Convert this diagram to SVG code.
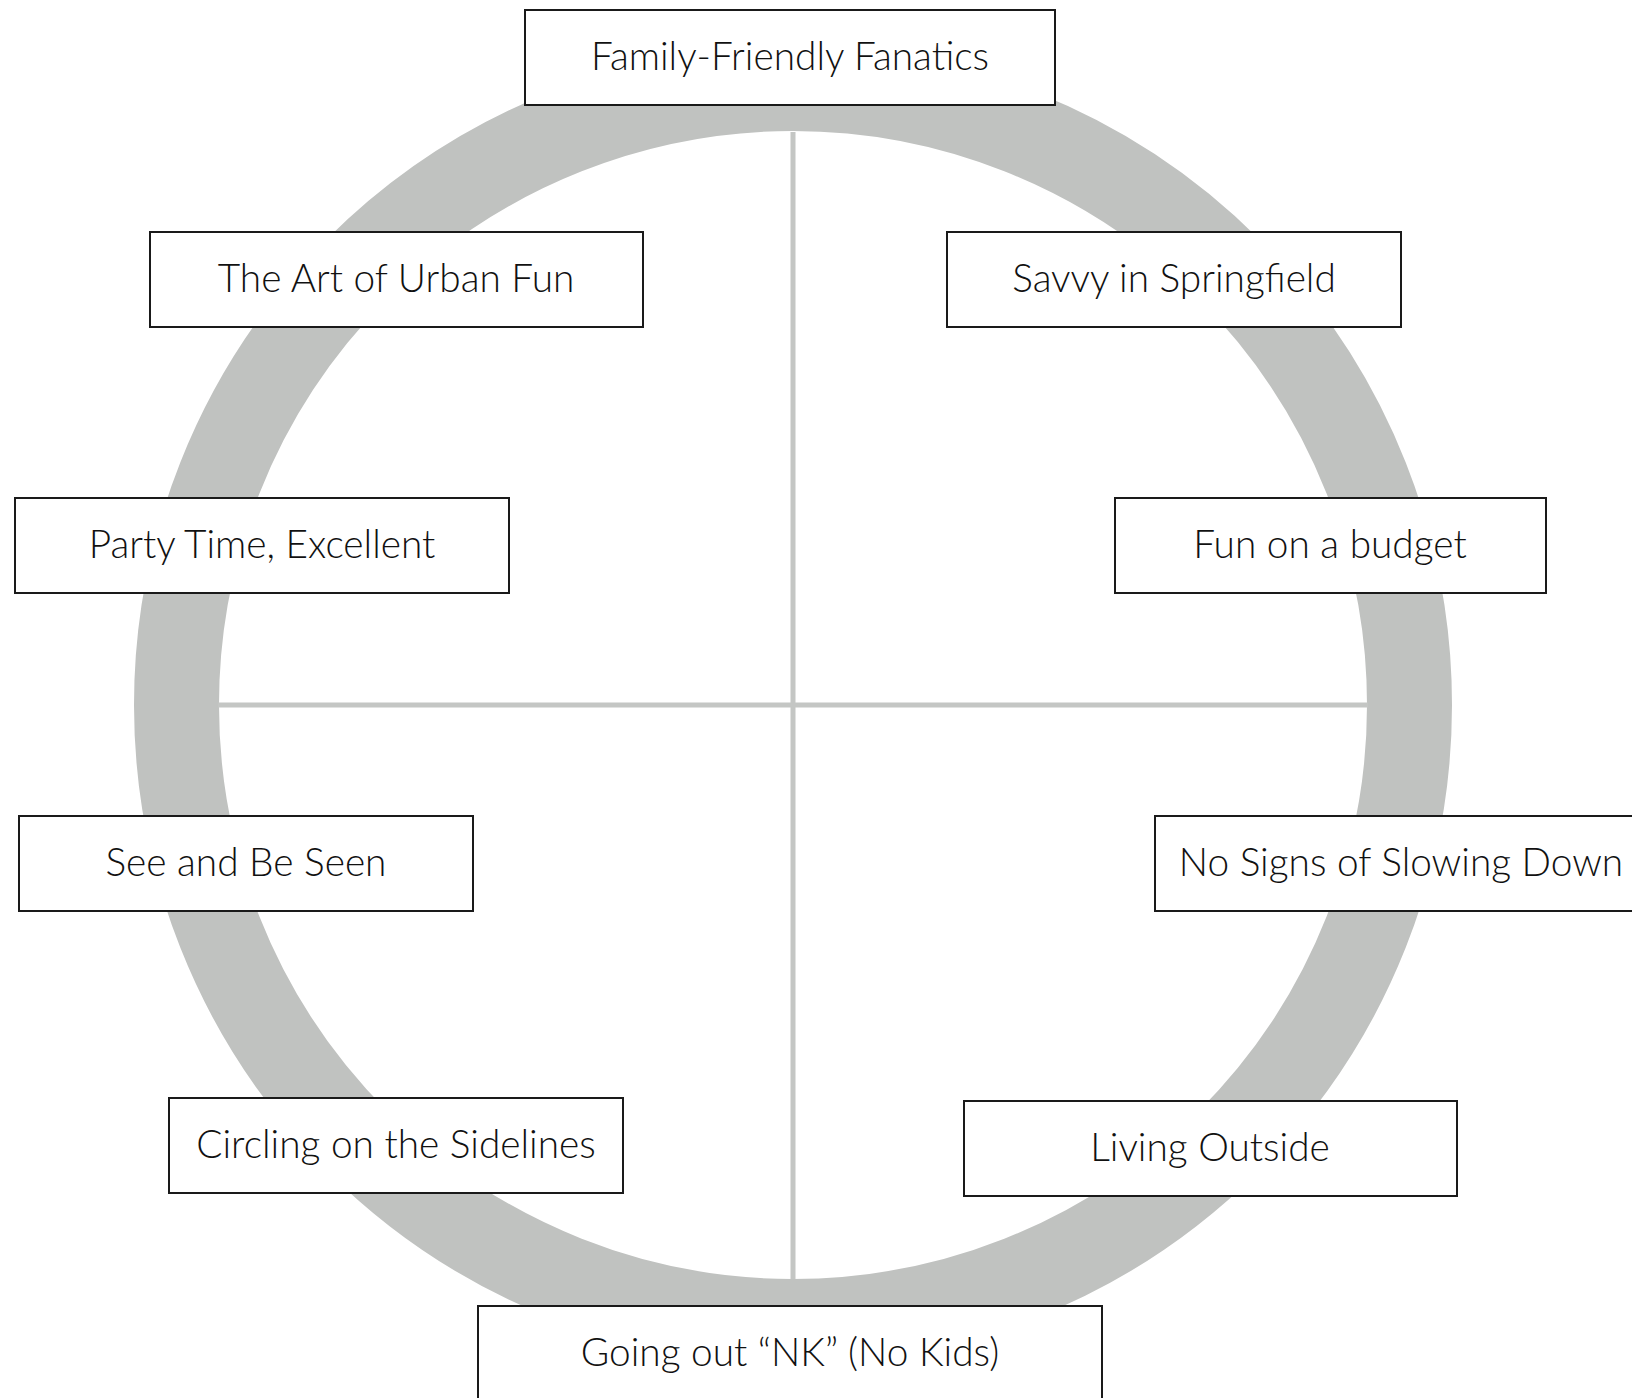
<svg xmlns="http://www.w3.org/2000/svg" width="1632" height="1398" viewBox="0 0 1632 1398">
<style>
.box{fill:#fff;stroke:#1a1a1a;stroke-width:2}
.lbl{font-family:Lato,"Noto Sans",sans-serif;font-weight:300;font-size:38.8px;fill:#111;text-anchor:middle}
.axis{stroke:#c4c6c4;stroke-width:5}
</style>
<rect width="1632" height="1398" fill="#fff"/>
<g id="wheel">
<circle cx="793" cy="705" r="616.5" fill="none" stroke="#c0c2c0" stroke-width="85"/>
</g>
<g id="connectors">
<line class="axis" x1="793" y1="132" x2="793" y2="1279"/>
<line class="axis" x1="218" y1="705" x2="1368" y2="705"/>
</g>
<g id="n1"><rect class="box" x="525" y="10" width="530" height="95"/><text class="lbl" x="790" y="70">Family-Friendly Fanatics</text></g>
<g id="n2"><rect class="box" x="150" y="232" width="493" height="95"/><text class="lbl" x="396" y="292">The Art of Urban Fun</text></g>
<g id="n3"><rect class="box" x="947" y="232" width="454" height="95"/><text class="lbl" x="1174" y="292">Savvy in Springfield</text></g>
<g id="n4"><rect class="box" x="15" y="498" width="494" height="95"/><text class="lbl" x="262" y="558">Party Time, Excellent</text></g>
<g id="n5"><rect class="box" x="1115" y="498" width="431" height="95"/><text class="lbl" x="1330" y="558">Fun on a budget</text></g>
<g id="n6"><rect class="box" x="19" y="816" width="454" height="95"/><text class="lbl" x="246" y="876">See and Be Seen</text></g>
<g id="n7"><rect class="box" x="1155" y="816" width="490" height="95"/><text class="lbl" x="1401" y="876">No Signs of Slowing Down</text></g>
<g id="n8"><rect class="box" x="169" y="1098" width="454" height="95"/><text class="lbl" x="396" y="1158">Circling on the Sidelines</text></g>
<g id="n9"><rect class="box" x="964" y="1101" width="493" height="95"/><text class="lbl" x="1210" y="1161">Living Outside</text></g>
<g id="n10"><rect class="box" x="478" y="1306" width="624" height="110"/><text class="lbl" x="790" y="1366">Going out “NK” (No Kids)</text></g>
</svg>
